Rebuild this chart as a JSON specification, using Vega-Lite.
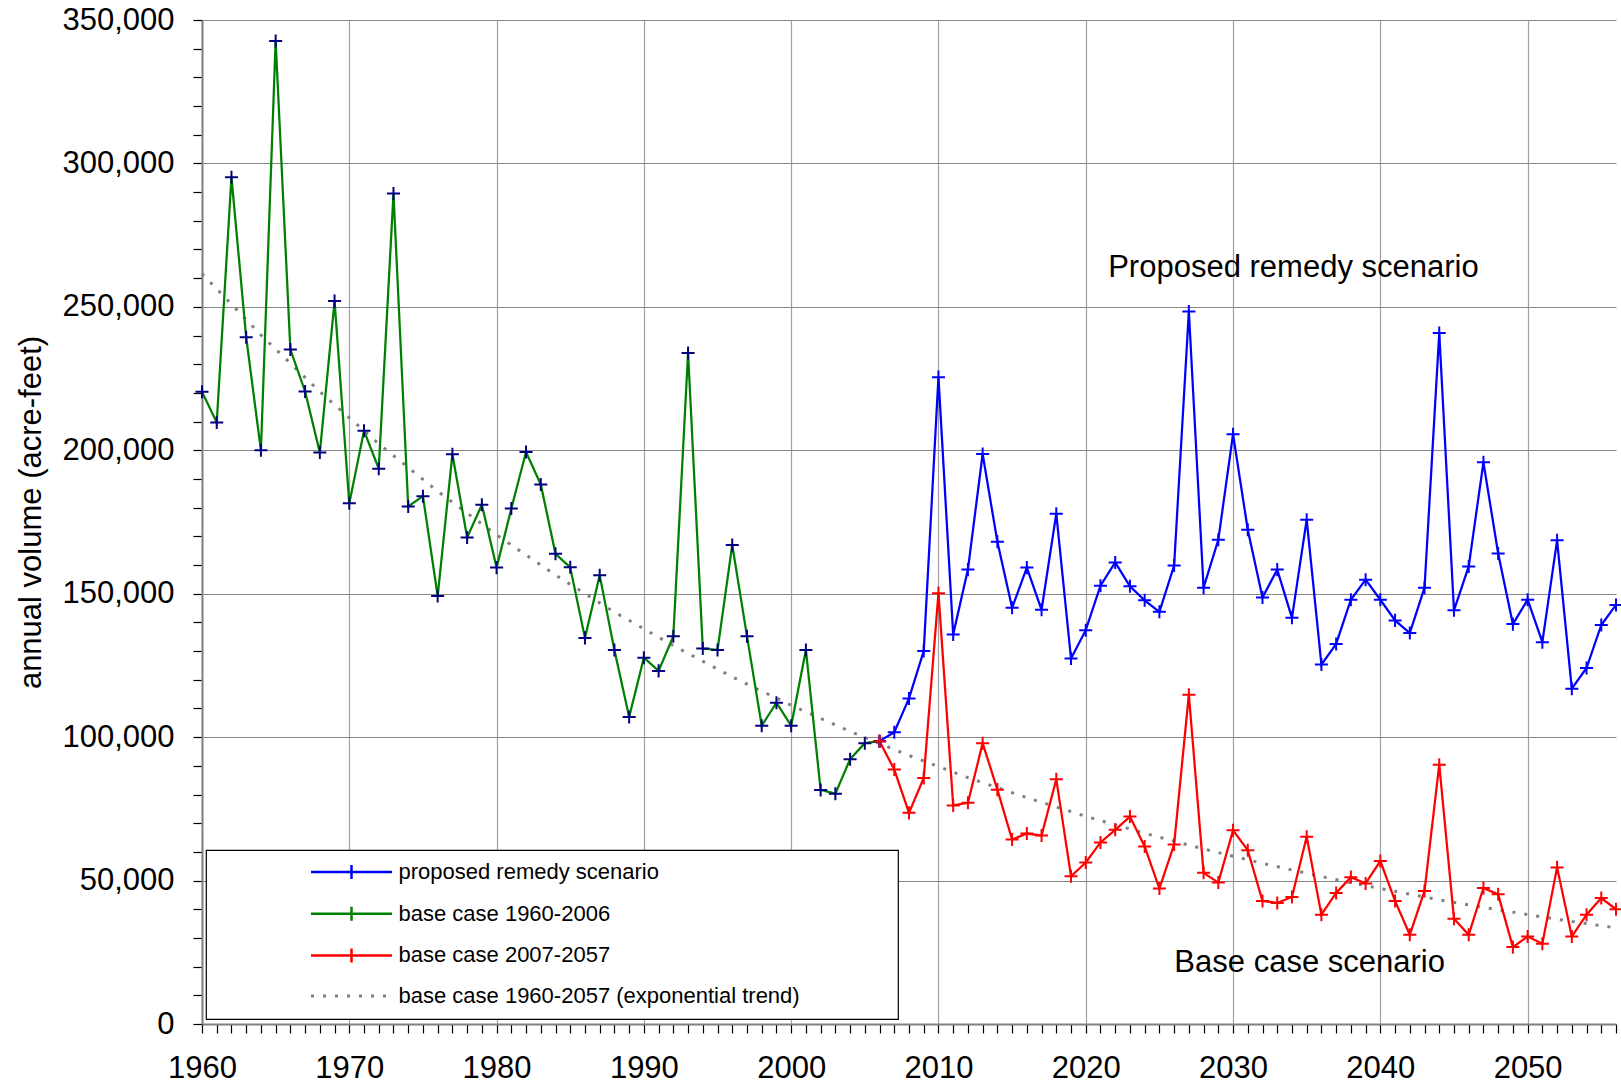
{
"$schema": "https://vega.github.io/schema/vega-lite/v6.json",
"width": 1414,
"height": 1004,
"autosize": {"type": "none"},
"padding": {"left": 202, "top": 20, "right": 5, "bottom": 59},
"background": "white",
"config": {"font": "Liberation Sans", "view": {"stroke": null}, "axis": {"labelFont": "Liberation Sans", "titleFont": "Liberation Sans"}},
"datasets": {
"series": [
{"series":"base case 1960-2057 (exponential trend)","year":1960,"value":261600},
{"series":"base case 1960-2057 (exponential trend)","year":1964,"value":240200},
{"series":"base case 1960-2057 (exponential trend)","year":1968,"value":220400},
{"series":"base case 1960-2057 (exponential trend)","year":1972,"value":202300},
{"series":"base case 1960-2057 (exponential trend)","year":1976,"value":185700},
{"series":"base case 1960-2057 (exponential trend)","year":1980,"value":170500},
{"series":"base case 1960-2057 (exponential trend)","year":1984,"value":156500},
{"series":"base case 1960-2057 (exponential trend)","year":1988,"value":143600},
{"series":"base case 1960-2057 (exponential trend)","year":1992,"value":131900},
{"series":"base case 1960-2057 (exponential trend)","year":1996,"value":121000},
{"series":"base case 1960-2057 (exponential trend)","year":2000,"value":111100},
{"series":"base case 1960-2057 (exponential trend)","year":2004,"value":102000},
{"series":"base case 1960-2057 (exponential trend)","year":2008,"value":93600},
{"series":"base case 1960-2057 (exponential trend)","year":2012,"value":85900},
{"series":"base case 1960-2057 (exponential trend)","year":2016,"value":78900},
{"series":"base case 1960-2057 (exponential trend)","year":2020,"value":72400},
{"series":"base case 1960-2057 (exponential trend)","year":2024,"value":66500},
{"series":"base case 1960-2057 (exponential trend)","year":2028,"value":61000},
{"series":"base case 1960-2057 (exponential trend)","year":2032,"value":56000},
{"series":"base case 1960-2057 (exponential trend)","year":2036,"value":51400},
{"series":"base case 1960-2057 (exponential trend)","year":2040,"value":47200},
{"series":"base case 1960-2057 (exponential trend)","year":2044,"value":43300},
{"series":"base case 1960-2057 (exponential trend)","year":2048,"value":39800},
{"series":"base case 1960-2057 (exponential trend)","year":2052,"value":36500},
{"series":"base case 1960-2057 (exponential trend)","year":2056,"value":33500},
{"series":"proposed remedy scenario","year":2006,"value":98600},
{"series":"proposed remedy scenario","year":2007,"value":101700},
{"series":"proposed remedy scenario","year":2008,"value":113500},
{"series":"proposed remedy scenario","year":2009,"value":130000},
{"series":"proposed remedy scenario","year":2010,"value":225500},
{"series":"proposed remedy scenario","year":2011,"value":135800},
{"series":"proposed remedy scenario","year":2012,"value":158400},
{"series":"proposed remedy scenario","year":2013,"value":198700},
{"series":"proposed remedy scenario","year":2014,"value":168100},
{"series":"proposed remedy scenario","year":2015,"value":145100},
{"series":"proposed remedy scenario","year":2016,"value":159100},
{"series":"proposed remedy scenario","year":2017,"value":144400},
{"series":"proposed remedy scenario","year":2018,"value":177900},
{"series":"proposed remedy scenario","year":2019,"value":127400},
{"series":"proposed remedy scenario","year":2020,"value":137300},
{"series":"proposed remedy scenario","year":2021,"value":152800},
{"series":"proposed remedy scenario","year":2022,"value":160900},
{"series":"proposed remedy scenario","year":2023,"value":152600},
{"series":"proposed remedy scenario","year":2024,"value":147700},
{"series":"proposed remedy scenario","year":2025,"value":143700},
{"series":"proposed remedy scenario","year":2026,"value":159800},
{"series":"proposed remedy scenario","year":2027,"value":248400},
{"series":"proposed remedy scenario","year":2028,"value":152100},
{"series":"proposed remedy scenario","year":2029,"value":168800},
{"series":"proposed remedy scenario","year":2030,"value":205600},
{"series":"proposed remedy scenario","year":2031,"value":172300},
{"series":"proposed remedy scenario","year":2032,"value":148700},
{"series":"proposed remedy scenario","year":2033,"value":158400},
{"series":"proposed remedy scenario","year":2034,"value":141600},
{"series":"proposed remedy scenario","year":2035,"value":175800},
{"series":"proposed remedy scenario","year":2036,"value":125300},
{"series":"proposed remedy scenario","year":2037,"value":132500},
{"series":"proposed remedy scenario","year":2038,"value":147900},
{"series":"proposed remedy scenario","year":2039,"value":154900},
{"series":"proposed remedy scenario","year":2040,"value":147900},
{"series":"proposed remedy scenario","year":2041,"value":140700},
{"series":"proposed remedy scenario","year":2042,"value":136300},
{"series":"proposed remedy scenario","year":2043,"value":152100},
{"series":"proposed remedy scenario","year":2044,"value":240900},
{"series":"proposed remedy scenario","year":2045,"value":144200},
{"series":"proposed remedy scenario","year":2046,"value":159500},
{"series":"proposed remedy scenario","year":2047,"value":195800},
{"series":"proposed remedy scenario","year":2048,"value":164000},
{"series":"proposed remedy scenario","year":2049,"value":139400},
{"series":"proposed remedy scenario","year":2050,"value":147900},
{"series":"proposed remedy scenario","year":2051,"value":133100},
{"series":"proposed remedy scenario","year":2052,"value":168600},
{"series":"proposed remedy scenario","year":2053,"value":116900},
{"series":"proposed remedy scenario","year":2054,"value":124100},
{"series":"proposed remedy scenario","year":2055,"value":139100},
{"series":"proposed remedy scenario","year":2056,"value":146100},
{"series":"base case 1960-2006","year":1960,"value":220400},
{"series":"base case 1960-2006","year":1961,"value":209700},
{"series":"base case 1960-2006","year":1962,"value":295200},
{"series":"base case 1960-2006","year":1963,"value":239400},
{"series":"base case 1960-2006","year":1964,"value":200000},
{"series":"base case 1960-2006","year":1965,"value":342700},
{"series":"base case 1960-2006","year":1966,"value":235100},
{"series":"base case 1960-2006","year":1967,"value":220500},
{"series":"base case 1960-2006","year":1968,"value":199200},
{"series":"base case 1960-2006","year":1969,"value":252000},
{"series":"base case 1960-2006","year":1970,"value":181500},
{"series":"base case 1960-2006","year":1971,"value":206800},
{"series":"base case 1960-2006","year":1972,"value":193600},
{"series":"base case 1960-2006","year":1973,"value":289500},
{"series":"base case 1960-2006","year":1974,"value":180400},
{"series":"base case 1960-2006","year":1975,"value":184000},
{"series":"base case 1960-2006","year":1976,"value":149200},
{"series":"base case 1960-2006","year":1977,"value":198600},
{"series":"base case 1960-2006","year":1978,"value":169600},
{"series":"base case 1960-2006","year":1979,"value":181000},
{"series":"base case 1960-2006","year":1980,"value":159100},
{"series":"base case 1960-2006","year":1981,"value":179700},
{"series":"base case 1960-2006","year":1982,"value":199400},
{"series":"base case 1960-2006","year":1983,"value":188100},
{"series":"base case 1960-2006","year":1984,"value":163900},
{"series":"base case 1960-2006","year":1985,"value":159200},
{"series":"base case 1960-2006","year":1986,"value":134600},
{"series":"base case 1960-2006","year":1987,"value":156400},
{"series":"base case 1960-2006","year":1988,"value":130400},
{"series":"base case 1960-2006","year":1989,"value":107000},
{"series":"base case 1960-2006","year":1990,"value":127700},
{"series":"base case 1960-2006","year":1991,"value":123100},
{"series":"base case 1960-2006","year":1992,"value":135200},
{"series":"base case 1960-2006","year":1993,"value":233900},
{"series":"base case 1960-2006","year":1994,"value":130900},
{"series":"base case 1960-2006","year":1995,"value":130400},
{"series":"base case 1960-2006","year":1996,"value":167000},
{"series":"base case 1960-2006","year":1997,"value":135200},
{"series":"base case 1960-2006","year":1998,"value":104000},
{"series":"base case 1960-2006","year":1999,"value":112000},
{"series":"base case 1960-2006","year":2000,"value":104000},
{"series":"base case 1960-2006","year":2001,"value":130400},
{"series":"base case 1960-2006","year":2002,"value":81600},
{"series":"base case 1960-2006","year":2003,"value":80300},
{"series":"base case 1960-2006","year":2004,"value":92300},
{"series":"base case 1960-2006","year":2005,"value":97900},
{"series":"base case 1960-2006","year":2006,"value":98600},
{"series":"base case 2007-2057","year":2006,"value":98600},
{"series":"base case 2007-2057","year":2007,"value":88700},
{"series":"base case 2007-2057","year":2008,"value":73600},
{"series":"base case 2007-2057","year":2009,"value":85800},
{"series":"base case 2007-2057","year":2010,"value":150200},
{"series":"base case 2007-2057","year":2011,"value":76200},
{"series":"base case 2007-2057","year":2012,"value":77100},
{"series":"base case 2007-2057","year":2013,"value":97900},
{"series":"base case 2007-2057","year":2014,"value":81700},
{"series":"base case 2007-2057","year":2015,"value":64300},
{"series":"base case 2007-2057","year":2016,"value":66400},
{"series":"base case 2007-2057","year":2017,"value":65700},
{"series":"base case 2007-2057","year":2018,"value":85300},
{"series":"base case 2007-2057","year":2019,"value":51500},
{"series":"base case 2007-2057","year":2020,"value":56300},
{"series":"base case 2007-2057","year":2021,"value":63300},
{"series":"base case 2007-2057","year":2022,"value":67700},
{"series":"base case 2007-2057","year":2023,"value":72300},
{"series":"base case 2007-2057","year":2024,"value":61900},
{"series":"base case 2007-2057","year":2025,"value":47200},
{"series":"base case 2007-2057","year":2026,"value":62600},
{"series":"base case 2007-2057","year":2027,"value":114800},
{"series":"base case 2007-2057","year":2028,"value":52700},
{"series":"base case 2007-2057","year":2029,"value":49300},
{"series":"base case 2007-2057","year":2030,"value":67500},
{"series":"base case 2007-2057","year":2031,"value":60600},
{"series":"base case 2007-2057","year":2032,"value":42900},
{"series":"base case 2007-2057","year":2033,"value":42200},
{"series":"base case 2007-2057","year":2034,"value":44300},
{"series":"base case 2007-2057","year":2035,"value":65300},
{"series":"base case 2007-2057","year":2036,"value":38100},
{"series":"base case 2007-2057","year":2037,"value":45700},
{"series":"base case 2007-2057","year":2038,"value":51200},
{"series":"base case 2007-2057","year":2039,"value":49000},
{"series":"base case 2007-2057","year":2040,"value":56800},
{"series":"base case 2007-2057","year":2041,"value":42900},
{"series":"base case 2007-2057","year":2042,"value":31100},
{"series":"base case 2007-2057","year":2043,"value":46400},
{"series":"base case 2007-2057","year":2044,"value":90400},
{"series":"base case 2007-2057","year":2045,"value":36700},
{"series":"base case 2007-2057","year":2046,"value":31100},
{"series":"base case 2007-2057","year":2047,"value":47400},
{"series":"base case 2007-2057","year":2048,"value":45200},
{"series":"base case 2007-2057","year":2049,"value":26800},
{"series":"base case 2007-2057","year":2050,"value":30500},
{"series":"base case 2007-2057","year":2051,"value":28000},
{"series":"base case 2007-2057","year":2052,"value":54600},
{"series":"base case 2007-2057","year":2053,"value":30500},
{"series":"base case 2007-2057","year":2054,"value":38100},
{"series":"base case 2007-2057","year":2055,"value":43900},
{"series":"base case 2007-2057","year":2056,"value":40000}
],
"notes": [
{"year": 2034.1, "value": 260300, "label": "Proposed remedy scenario"},
{"year": 2035.2, "value": 18300, "label": "Base case scenario"}
]
},
"data": {"name": "series"},
"encoding": {
  "x": {"field": "year", "type": "quantitative",
    "scale": {"domain": [1960, 2056], "nice": false, "zero": false},
    "axis": {"title": null, "format": "d",
      "values": [1960,1961,1962,1963,1964,1965,1966,1967,1968,1969,1970,1971,1972,1973,1974,1975,1976,1977,1978,1979,1980,1981,1982,1983,1984,1985,1986,1987,1988,1989,1990,1991,1992,1993,1994,1995,1996,1997,1998,1999,2000,2001,2002,2003,2004,2005,2006,2007,2008,2009,2010,2011,2012,2013,2014,2015,2016,2017,2018,2019,2020,2021,2022,2023,2024,2025,2026,2027,2028,2029,2030,2031,2032,2033,2034,2035,2036,2037,2038,2039,2040,2041,2042,2043,2044,2045,2046,2047,2048,2049,2050,2051,2052,2053,2054,2055,2056],
      "labelExpr": "datum.value % 10 === 0 ? format(datum.value, 'd') : ''",
      "labelFontSize": 31, "labelColor": "#000000", "labelPadding": 20, "labelFlush": false, "labelOverlap": false,
      "tickSize": 9, "tickColor": "#000000", "tickWidth": 1.2,
      "domainColor": "#808080", "domainWidth": 2,
      "grid": true, "gridColor": "#a0a0a0", "gridWidth": 1.2,
      "gridOpacity": {"condition": {"test": "datum.value % 10 === 0", "value": 1}, "value": 0}
    }
  },
  "y": {"field": "value", "type": "quantitative",
    "scale": {"domain": [0, 350000], "nice": false},
    "axis": {"title": "annual volume (acre-feet)", "titleFontSize": 31, "titleFontWeight": "normal", "titleColor": "#000000", "titlePadding": 14, "titleY": 492,
      "format": ",",
      "values": [0,10000,20000,30000,40000,50000,60000,70000,80000,90000,100000,110000,120000,130000,140000,150000,160000,170000,180000,190000,200000,210000,220000,230000,240000,250000,260000,270000,280000,290000,300000,310000,320000,330000,340000,350000],
      "labelExpr": "datum.value % 50000 === 0 ? format(datum.value, ',') : ''",
      "labelFontSize": 31, "labelColor": "#000000", "labelPadding": 19, "labelFlush": false, "labelOverlap": false,
      "tickSize": 9, "tickColor": "#000000", "tickWidth": 1.2,
      "domainColor": "#808080", "domainWidth": 2,
      "grid": true, "gridColor": "#878787", "gridWidth": 1.2,
      "gridOpacity": {"condition": {"test": "datum.value % 50000 === 0", "value": 1}, "value": 0}
    }
  }
},
"layer": [
  {
    "transform": [{"filter": "datum.series === 'base case 1960-2057 (exponential trend)'"}],
    "mark": {"type": "line", "strokeDash": [3, 9], "strokeWidth": 3},
    "encoding": {
      "color": {"field": "series", "type": "nominal",
        "scale": {"domain": ["proposed remedy scenario", "base case 1960-2006", "base case 2007-2057", "base case 1960-2057 (exponential trend)"], "range": ["#0000ff", "#008000", "#ff0000", "#808080"]},
        "legend": {"orient": "none", "legendX": 4, "legendY": 830, "title": null, "direction": "vertical",
          "padding": 11, "fillColor": "#ffffff", "strokeColor": "#000000",
          "symbolType": "M-8.1,0H8.1M0,-1.4V1.4M105.8,0L105.8,0", "symbolSize": 100, "symbolStrokeWidth": 2.5,
          "symbolOffset": 123.5, "labelOffset": 36,
          "labelFont": "Liberation Sans", "labelFontSize": 22, "labelColor": "#000000", "labelLimit": 700,
          "rowPadding": 17.7,
          "encode": {
            "legend": {"update": {"strokeWidth": {"value": 1.2}}},
            "symbols": {"update": {
              "shape": {"signal": "datum.value === 'base case 1960-2057 (exponential trend)' ? 'M-8.1,0H8.1M105.8,0L105.8,0' : 'M-8.1,0H8.1M0,-1.4V1.4M105.8,0L105.8,0'"},
              "strokeDash": {"signal": "datum.value === 'base case 1960-2057 (exponential trend)' ? [3,9] : [1,0]"},
              "strokeWidth": {"signal": "datum.value === 'base case 1960-2057 (exponential trend)' ? 3 : 2.5"}
            }}
          }
        }
      }
    }
  },
  {
    "transform": [{"filter": "datum.series !== 'base case 1960-2057 (exponential trend)'"}],
    "mark": {"type": "line", "strokeWidth": 2.25},
    "encoding": {
      "color": {"field": "series", "type": "nominal",
        "scale": {"domain": ["proposed remedy scenario", "base case 1960-2006", "base case 2007-2057", "base case 1960-2057 (exponential trend)"], "range": ["#0000ff", "#008000", "#ff0000", "#808080"]}
      }
    }
  },
  {
    "transform": [{"filter": "datum.series !== 'base case 1960-2057 (exponential trend)'"}],
    "mark": {"type": "point", "shape": "M-1,0H1M0,-1V1", "size": 170, "filled": false, "strokeWidth": 2, "opacity": 1},
    "encoding": {
      "stroke": {"field": "series", "type": "nominal",
        "scale": {"domain": ["proposed remedy scenario", "base case 1960-2006", "base case 2007-2057"], "range": ["#0000ff", "#000080", "#ff0000"]},
        "legend": null}
    }
  },
  {
    "data": {"name": "notes"},
    "mark": {"type": "text", "font": "Liberation Sans", "fontSize": 31, "align": "center", "baseline": "alphabetic", "color": "#000000"},
    "encoding": {"text": {"field": "label", "type": "nominal"}}
  }
]
}
